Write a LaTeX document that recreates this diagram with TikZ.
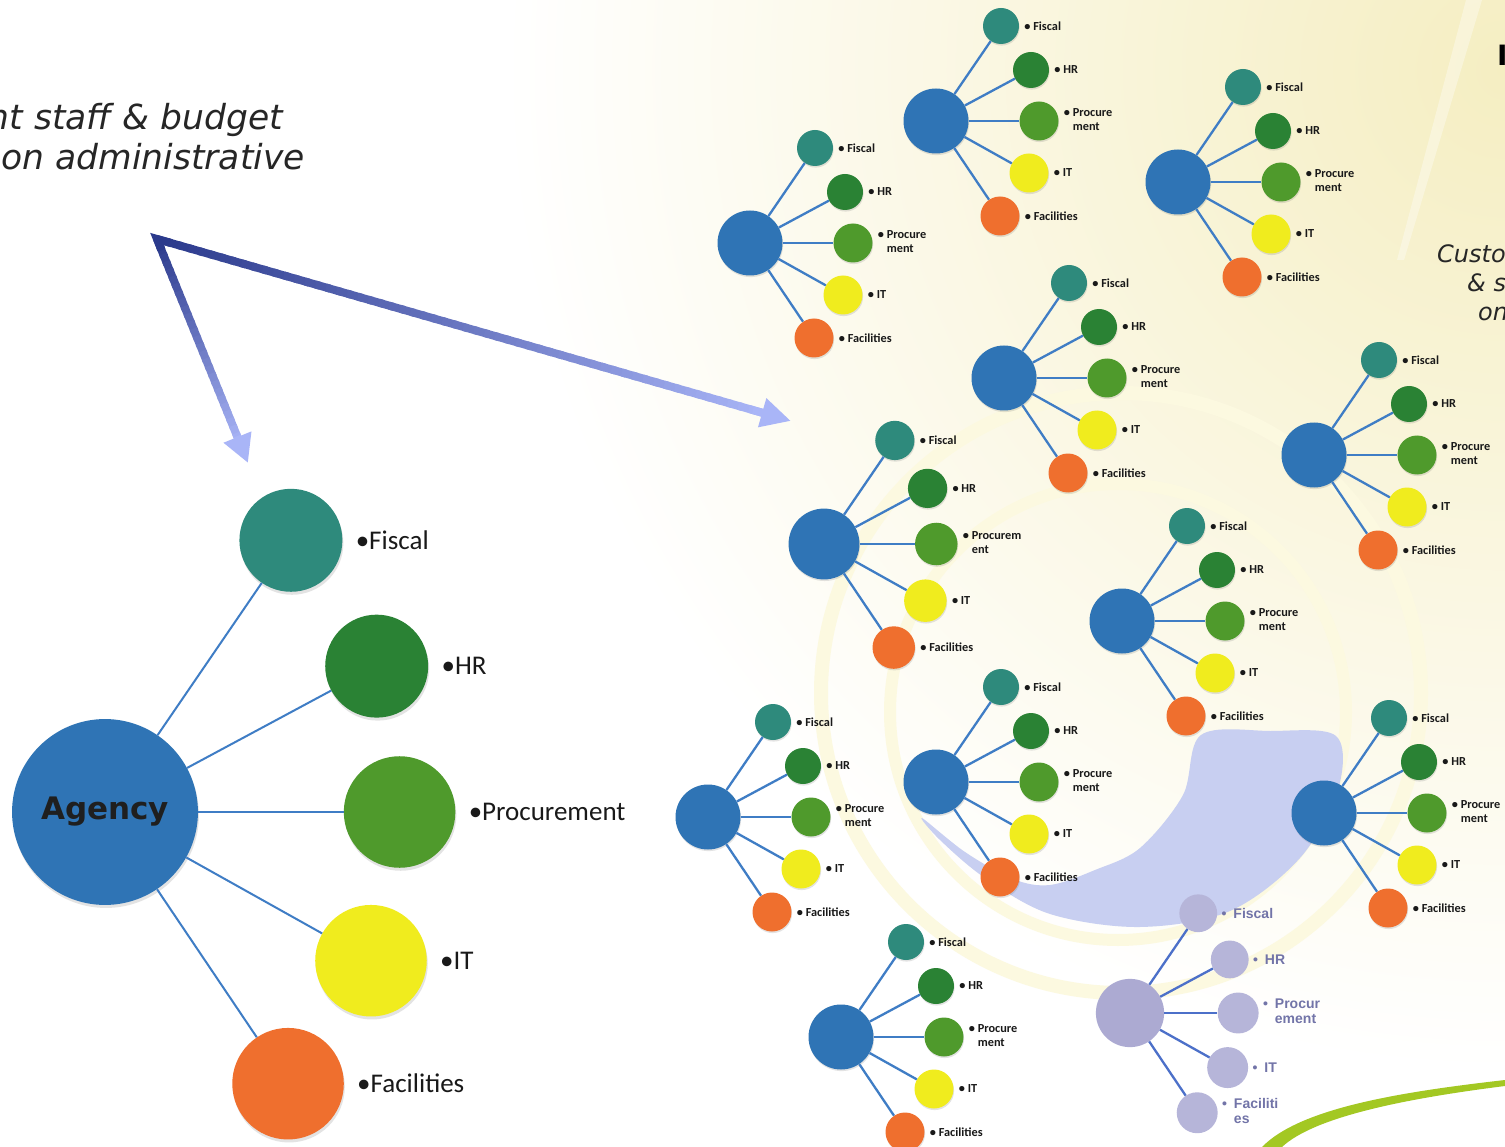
\documentclass[tikz,border=0pt]{standalone}
\usepackage{fontspec}
\setmainfont{Carlito}
\newfontfamily\dvs{DejaVu Sans}
\newfontfamily\lsans{Liberation Sans}
\usetikzlibrary{calc,arrows.meta,shadows}
\definecolor{cHub}{HTML}{2F74B5}
\definecolor{cFis}{HTML}{2E8A7C}
\definecolor{cHR}{HTML}{2A8234}
\definecolor{cPro}{HTML}{4F9A2C}
\definecolor{cIT}{HTML}{F0EC1E}
\definecolor{cFac}{HTML}{EF6F2E}
\definecolor{cLink}{HTML}{3F7DC5}
\definecolor{cFade}{HTML}{B6B5D9}
\definecolor{cFadeHub}{HTML}{ACAAD2}
\definecolor{cFadeTxt}{HTML}{7274A8}
\definecolor{cFadeLink}{HTML}{4C70C9}
\definecolor{cArrD}{HTML}{2B3A8C}
\definecolor{cArrL}{HTML}{A9B5F7}
\definecolor{cCrescent}{HTML}{C8CFF1}
\definecolor{cRing}{HTML}{FCF9E0}
\definecolor{cCream}{HTML}{F5EEC2}
\definecolor{cSwoosh}{HTML}{A3C823}

\newcommand{\twol}[2]{\begin{tabular}[t]{@{}l@{}}#1\\#2\end{tabular}}

\newcommand{\cluster}[8]{%
  \node[#5 hub, minimum size={65*#4}] (#1) at (#2,#3) {#8};
  \node[#5 kid=cFis, minimum size={36*#4}] (#1-f) at ($(#1)+({65*#4},{-95*#4})$) {};
  \node[#5 kid=cHR,  minimum size={36*#4}] (#1-h) at ($(#1)+({95*#4},{-51*#4})$) {};
  \node[#5 kid=cPro, minimum size={39*#4}] (#1-p) at ($(#1)+({103*#4},0)$) {};
  \node[#5 kid=cIT,  minimum size={39*#4}] (#1-i) at ($(#1)+({93*#4},{52*#4})$) {};
  \node[#5 kid=cFac, minimum size={39*#4}] (#1-c) at ($(#1)+({64*#4},{95*#4})$) {};
  \foreach \k in {f,h,p,i,c}{\draw[#5 link] (#1) -- (#1-\k);}
  \node[#5 lbl] (#1-fl) at (#1-f.east) {Fiscal};
  \node[#5 lbl] (#1-hl) at (#1-h.east) {HR};
  \node[#5 lbl] (#1-pl) at (#1-p.east) {#6};
  \node[#5 lbl] (#1-il) at (#1-i.east) {IT};
  \node[#5 lbl] (#1-cl) at (#1-c.east) {#7};
}

\begin{document}
\begin{tikzpicture}[x=1pt,y=-1pt,
  bigshd/.style={drop shadow={shadow xshift=1pt,shadow yshift=-3pt,opacity=0.18,fill=black!60}},
  smallshd/.style={drop shadow={shadow xshift=0.6pt,shadow yshift=-1.6pt,opacity=0.18,fill=black!60}},
  big hub/.style={circle, fill=cHub, inner sep=0, text=black!88, font=\dvs\bfseries\fontsize{31}{31}\selectfont, bigshd},
  small hub/.style={circle, fill=cHub, inner sep=0, smallshd},
  fade hub/.style={circle, fill=cFadeHub, inner sep=0},
  big kid/.style={circle, fill=#1, inner sep=0, bigshd},
  small kid/.style={circle, fill=#1, inner sep=0, smallshd},
  fade kid/.style={circle, fill=cFade, inner sep=0},
  big link/.style={draw=cLink, line width=2pt},
  small link/.style={draw=cLink, line width=2.3pt},
  fade link/.style={draw=cFadeLink, line width=2.3pt},
  big lbl/.style={anchor=west, xshift=13pt, inner sep=0, text=black!90, font=\fontsize{27}{30}\selectfont, execute at begin node={\textbullet}},
  small lbl/.style={anchor=west, xshift=5pt, inner sep=0, text=black!90, font=\bfseries\fontsize{12.3}{13.5}\selectfont, execute at begin node={\textbullet\ }},
  fade lbl/.style={anchor=west, xshift=4pt, inner sep=0, text=cFadeTxt, font=\lsans\bfseries\fontsize{14}{15}\selectfont, execute at begin node={\textbullet\hspace{7pt}}},
  ital/.style={inner sep=0, text=black!85, font=\dvs\itshape\fontsize{34.5}{40}\selectfont},
  italr/.style={inner sep=0, text=black!85, font=\dvs\itshape\fontsize{24}{29}\selectfont},
]
\useasboundingbox (0,0) rectangle (1505,1147);
\clip (0,0) rectangle (1505,1147);
\fill[white] (0,0) rectangle (1505,1147);
% background
\shade[inner color=cCream, outer color=white] (1505,70) circle (1000);
\fill[white, opacity=0.35] (1466,0) -- (1482,0) -- (1404,260) -- (1397,260) -- cycle;
\draw[cRing, line width=14pt] (1121,693) circle (300);
\draw[cRing, line width=12pt] (1118,712) circle (228);
\fill[cCrescent] plot[smooth cycle, tension=0.55] coordinates {(1336,736) (1338,790) (1300,858) (1230,911) (1140,927) (1050,914) (985,878) (940,840) (922,818) (965,852) (1013,879) (1050,885) (1095,870) (1140,848) (1183,795) (1201,735) (1270,731)};
\fill[cSwoosh] (1262,1147) .. controls (1300,1108) and (1400,1092) .. (1505,1080) -- (1505,1086) .. controls (1410,1098) and (1315,1116) .. (1282,1147) -- cycle;

% arrow
\coordinate (apx) at (157,239);
\coordinate (tA) at (248,463);
\coordinate (tB) at (791,421);
\foreach \i in {0,...,26}{
  \pgfmathsetmacro{\a}{\i/30}
  \pgfmathsetmacro{\b}{(\i+1.4)/30}
  \pgfmathsetmacro{\m}{100-\i*100/27}
  \draw[line width=8pt, draw=cArrD!\m!cArrL] ($(apx)!\a!(tA)$) -- ($(apx)!\b!(tA)$);
}
\draw[line width=8pt, draw=cArrL, fill=cArrL, -{Triangle[length=28pt,width=28pt]}] ($(apx)!0.88!(tA)$) -- (tA);
\foreach \i in {0,...,56}{
  \pgfmathsetmacro{\a}{\i/60}
  \pgfmathsetmacro{\b}{(\i+1.4)/60}
  \pgfmathsetmacro{\m}{100-\i*100/57}
  \draw[line width=8pt, draw=cArrD!\m!cArrL] ($(apx)!\a!(tB)$) -- ($(apx)!\b!(tB)$);
}
\draw[line width=8pt, draw=cArrL, fill=cArrL, -{Triangle[length=30pt,width=28pt]}] ($(apx)!0.94!(tB)$) -- (tB);
\draw[line width=8pt, cArrD, line join=miter, miter limit=10] ($(apx)!0.05!(tA)$) -- (apx) -- ($(apx)!0.02!(tB)$);

% clusters
\cluster{ag}{105}{812}{2.86}{big}{Procurement}{Facilities}{Agency}
\cluster{ca}{936}{121}{1}{small}{\twol{Procure}{ment}}{Facilities}{}
\cluster{cb}{1178}{182}{1}{small}{\twol{Procure}{ment}}{Facilities}{}
\cluster{cc}{750}{243}{1}{small}{\twol{Procure}{ment}}{Facilities}{}
\cluster{cd}{1004}{378}{1}{small}{\twol{Procure}{ment}}{Facilities}{}
\cluster{ce}{1314}{455}{1}{small}{\twol{Procure}{ment}}{Facilities}{}
\cluster{cf}{824}{544}{1.09}{small}{\twol{Procurem}{ent}}{Facilities}{}
\cluster{cg}{1122}{621}{1}{small}{\twol{Procure}{ment}}{Facilities}{}
\cluster{ch}{936}{782}{1}{small}{\twol{Procure}{ment}}{Facilities}{}
\cluster{ci}{708}{817}{1}{small}{\twol{Procure}{ment}}{Facilities}{}
\cluster{cj}{1324}{813}{1}{small}{\twol{Procure}{ment}}{Facilities}{}
\cluster{ck}{841}{1037}{1}{small}{\twol{Procure}{ment}}{Facilities}{}
\cluster{cl}{1130}{1013}{1.05}{fade}{\twol{Procur}{ement}}{\twol{Faciliti}{es}}{}

% texts
\node[ital, anchor=base east] (lt1) at (283,130) {nt staff \& budget};
\node[ital, anchor=base east] (lt2) at (305,170) {on administrative};
\node[italr, anchor=base west] (rt1) at (1437,263) {Custo};
\node[italr, anchor=base west] (rt2) at (1467,292) {\& s};
\node[italr, anchor=base west] (rt3) at (1478,321) {on};
\node[inner sep=0, anchor=base west, font=\dvs\bfseries\fontsize{28}{28}\selectfont] (ttl) at (1497,66) {I};
\end{tikzpicture}
\end{document}
